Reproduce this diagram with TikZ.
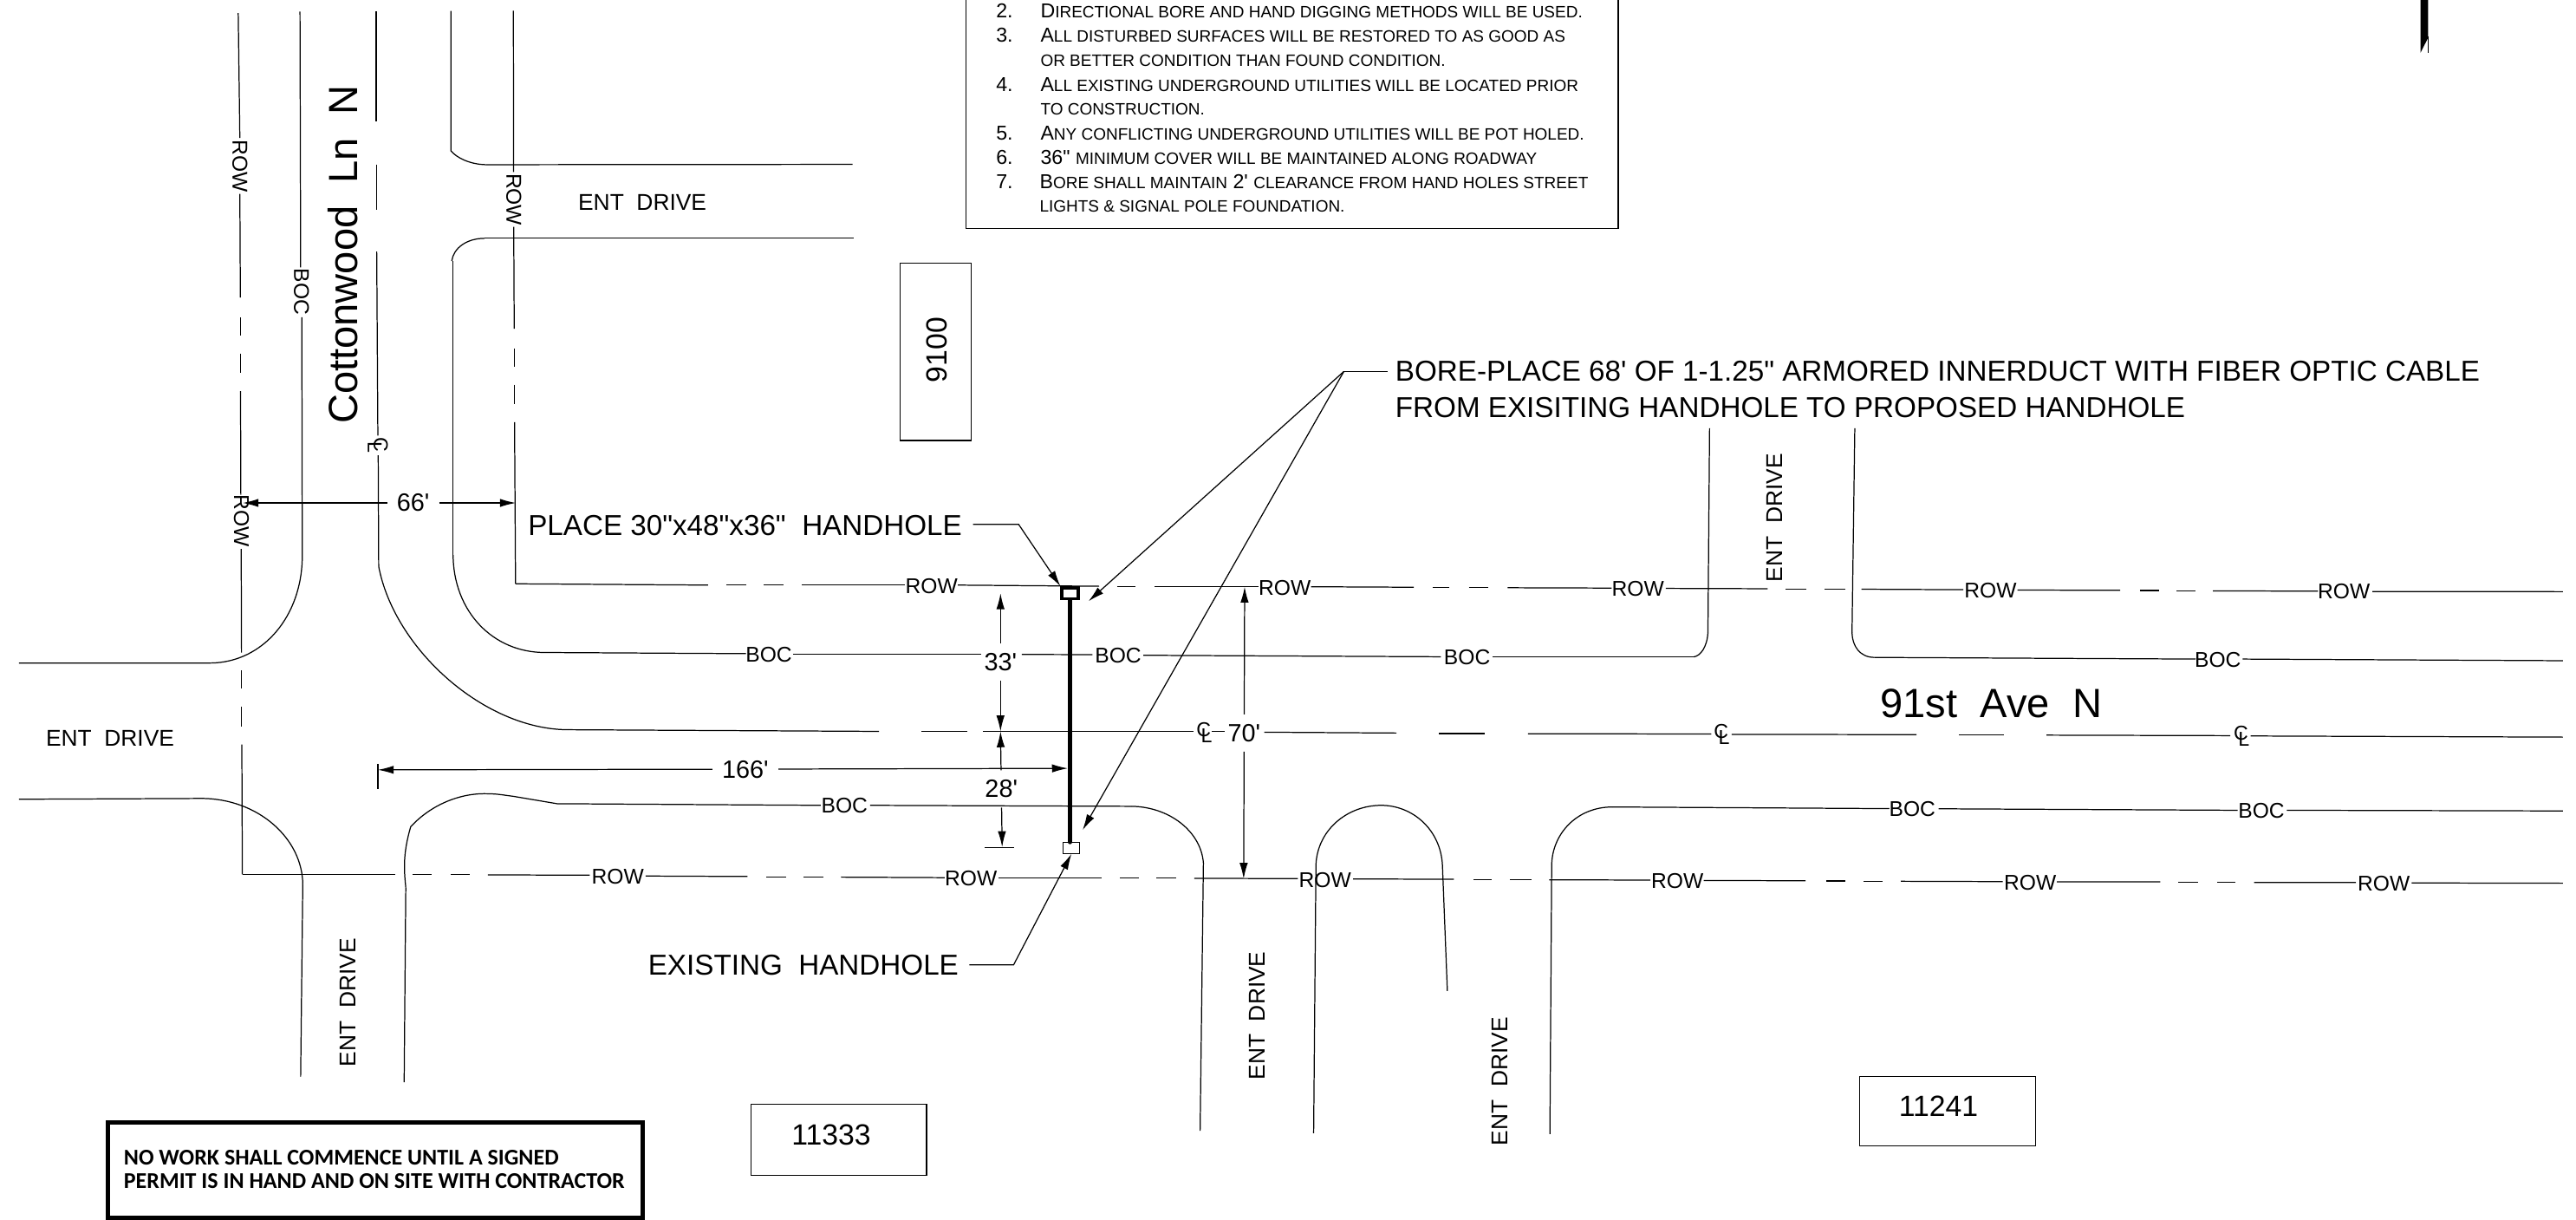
\documentclass[tikz,border=0pt]{standalone}
\usepackage{fontspec}
\usepackage{tikz}
\usetikzlibrary{arrows.meta}
\setmainfont{Liberation Sans}[Ligatures=TeXOff]
\newfontfamily\permitfont{Carlito}[Ligatures=TeXOff]
\newcommand{\smc}[1]{{\fontsize{5.4}{6}\selectfont\MakeUppercase{#1}}}
\newcommand{\clsym}{\rlap{C}\hspace{1.5pt}\raisebox{-2pt}{L}}
\tikzset{
	road/.style={line width=0.35pt},
	dimend/.style={line width=0.35pt, -{Latex[length=5.2pt,width=2.7pt]}},
	lbl/.style={inner sep=0pt, font=\fontsize{7}{8}\selectfont},
	entlbl/.style={inner sep=0pt, font=\fontsize{7.5}{8}\selectfont},
	dimlbl/.style={inner sep=3pt, font=\fontsize{8.2}{9}\selectfont},
	calllbl/.style={inner sep=0pt, font=\fontsize{9.45}{11.9}\selectfont},
	cllbl/.style={inner sep=0pt, font=\fontsize{6.6}{7}\selectfont},
	lotlbl/.style={inner sep=0pt, font=\fontsize{9.6}{10}\selectfont},
	notetxt/.style={inner sep=0pt, anchor=base west, font=\fontsize{6.6}{7}\selectfont},
	handhole/.style={draw, inner sep=0pt, fill=white}
}
\begin{document}
\begin{tikzpicture}[x=0.018954cm, y=-0.018954cm]
	\useasboundingbox (0,0) rectangle (1568,741.8);
	% road lines, cut at the labels
	\foreach \xa/\ya/\xb/\yb in {
		314/355.2/431/356, 442/356/454/356, 465/356/477/356, 488/356/551/356, 583/356/669/356.7,
		680/357/691/357, 703/357/766/357, 798/357/860.6/357.3, 872/357.4/882/357.4, 894/357.5/906/357.5,
		917.7/357.6/981/357.8, 1014/358/1076/358.2, 1087/358.3/1099.6/358.3, 1110.6/358.4/1123/358.4,
		1133/358.5/1195/358.8, 1228/359/1290.6/359.2, 1302.6/359.3/1314/359.3, 1325/359.4/1336.6/359.4,
		1347/359.5/1411/359.7, 1444/359.9/1560/360,
		147.5/532/240.5/532, 251/532/263/532, 274.6/532.2/286/532.2, 297/532.3/359/532.5,
		393/533/455/533.3, 466.6/533.5/478.5/533.5, 489/533.6/501/533.6, 512/533.7/575/534,
		608/534.2/670.7/534.2, 681.6/534.3/693/534.3, 704/534.3/716/534.3, 727/534.4/790/534.6,
		823.6/534.8/885/535, 897/535.1/908/535.1, 919/535.2/932/535.2, 943/535.3/1004.6/535.5,
		1037/535.7/1099/535.9, 1111.6/536/1123/536, 1134.5/536.1/1146/536.1, 1157/536.2/1219/536.4,
		1252/536.5/1315/536.6, 1326/536.7/1338/536.7, 1349.6/536.8/1360.7/536.8, 1372/536.9/1434/537,
		1468/537.2/1560/537.4,
		483/398/597/398, 622/398.2/665/398.3, 696/398.7/877/399.6, 908.7/399.7/1031/399.7,
		1141/400/1336.5/401, 1365/401/1560/402,
		346/444/535/445, 561/445/589/445, 598.3/445/726.5/445, 737.6/445/745.5/445, 769.5/445.5/850/446,
		876/446.3/904/446.3, 930/446.4/1041.6/446.6, 1054/446.8/1166.5/447, 1192.5/447.2/1220/447.2,
		1245.7/447.3/1357.5/447.6, 1370/447.8/1560/448.5,
		529.6/490/689/490.6,
		981.4/491/1150/492, 1180/492.1/1362/493, 1392/493/1560/493.4,
		145/8/146/84, 146/118/146.3/181, 146.3/193/146.3/204, 146.4/215/146.4/227, 146.4/238/146.6/301,
		146.8/334/147/397, 147.1/408/147.1/419, 147.1/430/147.1/442, 147.2/453/147.5/532,
		312.5/6.5/312.6/104.6, 312.7/138/313/200, 313/212/313/223, 313.1/234/313.1/245.7, 313.2/256.8/313.8/355.2,
		182.6/7/183/162.7,
		229/7/229/74, 229.2/100/229.2/127.5, 229.3/153/230/265, 230.2/277/230.5/344.6,
		1040.6/260.6/1039.6/385, 1129/260.6/1127.3/385,
		275.8/158.8/275.8/337.7, 730.5/688/732.5/525, 799.6/689.5/801/526, 881/603/878/526.5,
		943.4/690/944.5/526, 183/655/184.3/538, 246/658.5/247/540,
		11.6/403.5/128.4/403.4, 11.6/486.3/123/485.8, 295.8/100.2/519/100, 295/145/519.7/145
	}{
		\draw[road] (\xa,\ya) -- (\xb,\yb);
	}
	% corners of the drives
	\draw[road] (183.7,193) -- (184,338) .. controls (184,375) and (160,403) .. (128.4,403.4);
	\draw[road] (123,485.8) .. controls (157,486) and (184,510) .. (184.3,538);
	\draw[road] (274.5,6.7) -- (274.5,91.8) .. controls (278,96) and (286,100) .. (295.8,100.2);
	\draw[road] (295,145) .. controls (284,145) and (276,151) .. (275,158.8);
	\draw[road] (275.8,337.7) .. controls (276,372) and (300,397) .. (331.5,397) -- (454,397.7);
	\draw[road] (230.5,344.6) .. controls (240,395) and (295,444) .. (346,444);
	\draw[road] (1031,399.7) .. controls (1035,399) and (1039,394) .. (1039.6,385);
	\draw[road] (1127.3,385) .. controls (1127.5,393) and (1132,400) .. (1141,400);
	\draw[road] (247,540) .. controls (246,530) and (245,520) .. (250,503) .. controls (262,490) and (280,482) .. (298,483) .. controls (303,483) and (308,484) .. (312.4,484.5) -- (339,489) -- (499.6,490);
	\draw[road] (689,490.6) .. controls (712,491) and (731,506) .. (732.5,525);
	\draw[road] (801,526) .. controls (802,505) and (820,490) .. (840.7,490) .. controls (860,490) and (877,505) .. (878,526.5);
	\draw[road] (944.5,526) .. controls (945,507) and (960,491) .. (981.4,491);
	% lot boxes and note boxes
	\draw[road] (548,160) rectangle (591,268);
	\draw[road] (457,672) rectangle (564,715);
	\draw[road] (1132,655) rectangle (1239,697);
	\draw[road] (588,-2) -- (588,139) -- (985,139) -- (985,-2);
	\draw[line width=1.4pt] (65.5,683) rectangle (391,741);
	\fill (1473.4,-1) -- (1478,-1) -- (1478,22.9) -- (1473.4,32) -- cycle;
	\draw[line width=0.2pt] (1478,22) -- (1478,32);
	\node[lotlbl, rotate=90] (lotNine) at (570,213) {9100};
	\node[lotlbl] (lotEleven) at (506,690.5) {11333};
	\node[lotlbl] (lotTwelve) at (1180,673) {11241};
	% bore and handholes
	\node[handhole, line width=1pt, minimum width=5.3pt, minimum height=3.6pt] (hhNew) at (651.3,361) {};
	\node[handhole, line width=0.3pt, minimum width=5.5pt, minimum height=3.5pt] (hhOld) at (652.2,516) {};
	\draw[line width=1.3pt, line cap=round] (hhNew.south) -- (hhNew.south |- hhOld.north);
	% labels on the lines
	\foreach \i/\x/\y in {a/567/356.5, b/782/357.6, c/997/358.4, d/1211.6/359.4, e/1426.7/360,
		f/376/533.4, g/591/534.4, h/806.5/535.4, j/1021/536, k/1235.7/536.9, l/1451/537.7}{
		\node[lbl] (row\i) at (\x,\y) {ROW};
	}
	\foreach \i/\x/\y in {a/146/101, b/147/317, c/312.8/121.4}{
		\node[lbl, rotate=-90] (rowv\i) at (\x,\y) {ROW};
	}
	\foreach \i/\x/\y in {a/468/398.3, b/680.6/398.8, c/893/400, d/1350/401.3, e/514/490.3, f/1164/492.3, g/1376.5/493.3}{
		\node[lbl] (boc\i) at (\x,\y) {BOC};
	}
	\node[lbl, rotate=-90] (bocv) at (183.5,177.6) {BOC};
	\foreach \i/\x/\y in {a/733/445.5, b/1048/446.8, c/1364.4/448}{
		\node[cllbl] (cl\i) at (\x,\y) {\clsym};
	}
	\node[cllbl, rotate=-90] (clv) at (230,271) {\clsym};
	\node[entlbl] (entA) at (391,123) {ENT\ \ DRIVE};
	\node[entlbl] (entB) at (67,449) {ENT\ \ DRIVE};
	\node[entlbl, rotate=90] (entC) at (212,610) {ENT\ \ DRIVE};
	\node[entlbl, rotate=90] (entD) at (765,618) {ENT\ \ DRIVE};
	\node[entlbl, rotate=90] (entE) at (913,658) {ENT\ \ DRIVE};
	\node[entlbl, rotate=90] (entF) at (1080,315) {ENT\ \ DRIVE};
	\node[inner sep=0pt, rotate=90] (cottonwood) at (209,155) {\fontsize{13.4}{15}\selectfont Cottonwood\ \ Ln\ \ N};
	\node[inner sep=0pt] (avenue) at (1212,428) {\fontsize{13.4}{15}\selectfont 91st\ \ Ave\ \ N};
	% dimensions
	\coordinate (dimWest) at (147.7,306);
	\coordinate (dimEast) at (314,306);
	\node[dimlbl] (dimSixtySix) at (251.5,306) {66'};
	\draw[dimend] (dimSixtySix) -- (dimWest);
	\draw[dimend] (dimSixtySix) -- (dimEast);
	\coordinate (dimTop) at (609,361);
	\coordinate (dimMid) at (609,445);
	\coordinate (dimLow) at (610,515.4);
	\node[dimlbl] (dimThirtyThree) at (609,403) {33'};
	\node[dimlbl] (dimTwentyEight) at (609.5,480) {28'};
	\draw[dimend] (dimThirtyThree) -- (dimTop);
	\draw[dimend] (dimThirtyThree) -- (dimMid);
	\draw[dimend] (dimTwentyEight) -- (dimMid);
	\draw[dimend] (dimTwentyEight) -- (dimLow);
	\draw[road] (599.4,515.6) -- (617.2,515.6);
	\coordinate (dimLeft) at (230,468.4);
	\coordinate (dimBore) at (650,467.5);
	\node[dimlbl] (dimLong) at (453.7,468) {166'};
	\draw[dimend] (dimLong) -- (dimLeft);
	\draw[dimend] (dimLong) -- (dimBore);
	\draw[road] (230,465) -- (230,480);
	\coordinate (dimUp) at (757.6,357);
	\coordinate (dimDown) at (757,534.7);
	\node[dimlbl] (dimSeventy) at (757.3,446) {70'};
	\draw[dimend] (dimSeventy) -- (dimUp);
	\draw[dimend] (dimSeventy) -- (dimDown);
	% callouts
	\node[calllbl] (placeText) at (453.5,320) {PLACE 30"x48"x36"\ \ HANDHOLE};
	\draw[dimend] (592.3,319) -- (620,319) -- (hhNew.north west);
	\node[calllbl] (existText) at (489,587) {EXISTING\ \ HANDHOLE};
	\draw[dimend] (590,587) -- (617,587) -- (hhOld.south);
	\node[calllbl, anchor=west, align=left] (boreText) at (849,237) {BORE-PLACE 68' OF 1-1.25" ARMORED INNERDUCT WITH FIBER OPTIC CABLE\\FROM EXISITING HANDHOLE TO PROPOSED HANDHOLE};
	\coordinate (boreKnee) at (818,226);
	\coordinate (boreTipA) at (662.6,365.8);
	\coordinate (boreTipB) at (659,505);
	\draw[road] (844.6,226) -- (boreKnee);
	\draw[dimend] (boreKnee) -- (boreTipA);
	\draw[dimend] (boreKnee) -- (boreTipB);
	% notes
	\node[notetxt] (numTwo) at (606,10.7) {2.};
	\node[notetxt] (noteTwo) at (633,10.7) {D\smc{irectional bore and hand digging methods will be used.}};
	\node[notetxt] (numThree) at (606,25.5) {3.};
	\node[notetxt] (noteThreeA) at (633,25.5) {A\smc{ll disturbed surfaces will be restored to as good as}};
	\node[notetxt] (noteThreeB) at (633,40.4) {\smc{or better condition than found condition.}};
	\node[notetxt] (numFour) at (606,55.4) {4.};
	\node[notetxt] (noteFourA) at (633,55.4) {A\smc{ll existing underground utilities will be located prior}};
	\node[notetxt] (noteFourB) at (633,70) {\smc{to construction.}};
	\node[notetxt] (numFive) at (606,85) {5.};
	\node[notetxt] (noteFive) at (633,85) {A\smc{ny conflicting underground utilities will be pot holed.}};
	\node[notetxt] (numSix) at (606,100) {6.};
	\node[notetxt] (noteSix) at (633,100) {36" \smc{minimum cover will be maintained along roadway}};
	\node[notetxt] (numSeven) at (606,115) {7.};
	\node[notetxt] (noteSevenA) at (632.5,115) {B\smc{ore shall maintain} 2' \smc{clearance from hand holes street}};
	\node[notetxt] (noteSevenB) at (632.5,129) {\smc{lights \& signal pole foundation.}};
	% permit box
	\node[inner sep=0pt, anchor=base west, align=left, font=\permitfont\bfseries\fontsize{7.4}{7.6}\selectfont] (permitText) at (75,723) {NO WORK SHALL COMMENCE UNTIL A SIGNED\\PERMIT IS IN HAND AND ON SITE WITH CONTRACTOR};
\end{tikzpicture}
\end{document}
